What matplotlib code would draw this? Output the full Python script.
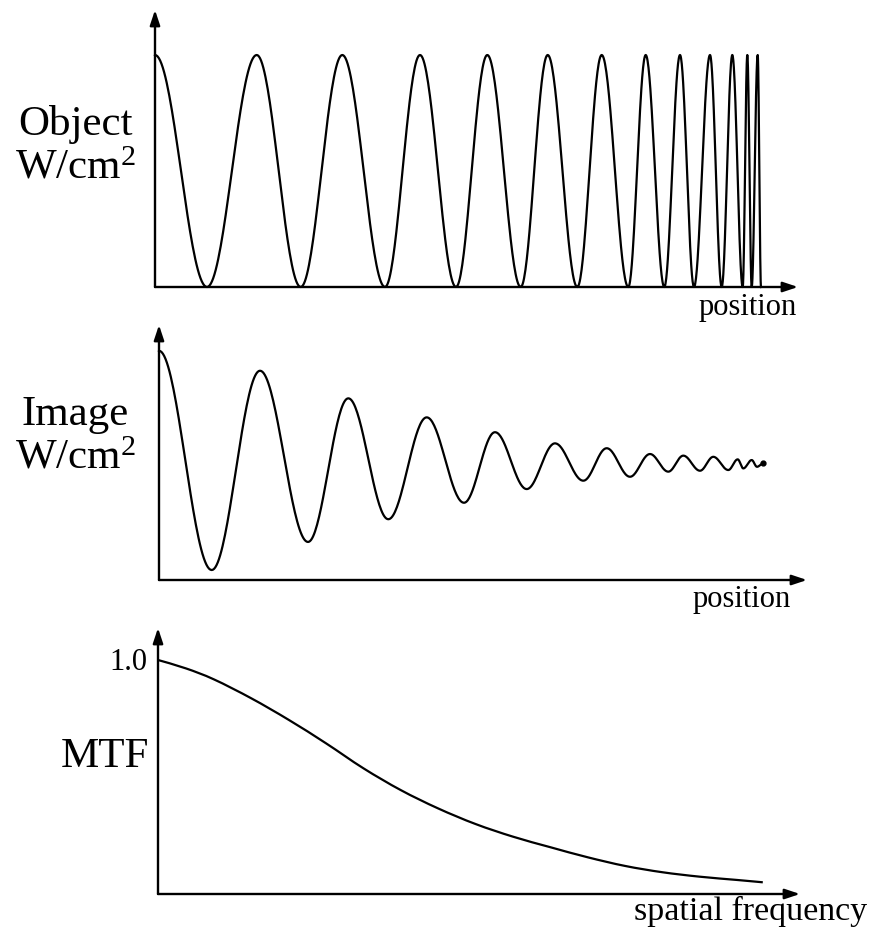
import numpy as np
import matplotlib
matplotlib.use("Agg")
import matplotlib.pyplot as plt
from matplotlib.path import Path
from matplotlib.patches import PathPatch

plt.rcParams['font.family'] = ['Liberation Serif', 'DejaVu Serif']
plt.rcParams['mathtext.fontset'] = 'custom'
plt.rcParams['mathtext.rm'] = 'Liberation Serif'
plt.rcParams['mathtext.it'] = 'Liberation Serif:italic'

# ---- data ----
# Object: positions of successive extrema (peak, min, peak, ...) and their levels
object_x = [0, 52, 101.7, 145.7, 187.3, 230, 265, 301, 332.3, 365.7, 392.7, 422.3,
            446.7, 473.3, 490.7, 509.3, 525, 539, 555, 566.7, 577.3, 587.7, 592.3,
            596.7, 602.7, 606]
object_y = [1, 0, 1, 0, 1, 0, 1, 0, 1, 0, 1, 0, 1, 0, 1, 0, 1, 0, 1, 0, 1, 0, 1, 0, 1, 0]

# Image: positions of successive extrema and their levels
image_x = [0, 52.7, 101, 149, 189.3, 229.3, 267.7, 305, 336, 367.7, 396, 424.3,
           447.7, 471, 491, 509.3, 524.3, 541, 554.3, 569.3, 578.7, 584.3, 592.7,
           598, 604.3]
image_y = [0.988, 0.043, 0.902, 0.164, 0.783, 0.262, 0.701, 0.333, 0.637, 0.392,
           0.589, 0.428, 0.568, 0.445, 0.543, 0.467, 0.536, 0.471, 0.531, 0.474,
           0.52, 0.481, 0.517, 0.488, 0.503]

# MTF vs spatial frequency
mtf_f = [0, 28, 56, 93.4, 130.8, 168, 205.5, 242.8, 280, 317.6, 355, 392.3, 429.6,
         467, 504.4, 541.7, 579, 604.8]
mtf_v = [1.0, 0.964, 0.917, 0.836, 0.744, 0.644, 0.537, 0.444, 0.366, 0.299,
         0.245, 0.200, 0.157, 0.120, 0.093, 0.074, 0.060, 0.050]

W, H = 874, 931
fig = plt.figure(figsize=(W / 100, H / 100), dpi=100)


def add_ax(left, right, bottom, top):
    return fig.add_axes([left / W, 1 - bottom / H, (right - left) / W, (bottom - top) / H])


def extrema_curve(xs, ys, n=40):
    X, Y = [], []
    for i in range(len(xs) - 1):
        t = np.linspace(0, 1, n, endpoint=(i == len(xs) - 2))
        X.append(xs[i] + (xs[i + 1] - xs[i]) * t)
        Y.append(ys[i] + (ys[i + 1] - ys[i]) * (1 - np.cos(np.pi * t)) / 2)
    return np.concatenate(X), np.concatenate(Y)


def smooth_path(xs, ys):
    xs = np.asarray(xs, float)
    ys = np.asarray(ys, float)
    verts = [(xs[0], ys[0])]
    codes = [Path.MOVETO]
    for i in range(len(xs) - 1):
        p0 = np.array([xs[max(i - 1, 0)], ys[max(i - 1, 0)]])
        p1 = np.array([xs[i], ys[i]])
        p2 = np.array([xs[i + 1], ys[i + 1]])
        p3 = np.array([xs[min(i + 2, len(xs) - 1)], ys[min(i + 2, len(xs) - 1)]])
        c1 = p1 + (p2 - p0) / 6
        c2 = p2 - (p3 - p1) / 6
        verts += [tuple(c1), tuple(c2), tuple(p2)]
        codes += [Path.CURVE4] * 3
    return Path(verts, codes)


def style_axes(ax):
    for s in ax.spines.values():
        s.set_visible(False)
    ax.set_xticks([])
    ax.set_yticks([])
    ax.patch.set_alpha(0)
    arrow = dict(arrowstyle='-|>,head_length=0.9,head_width=0.3', color='black',
                 lw=1.7, shrinkA=0, shrinkB=0)
    ax.annotate('', xy=(1, 0), xytext=(0, 0), xycoords='axes fraction',
                textcoords='axes fraction', arrowprops=arrow, annotation_clip=False)
    ax.annotate('', xy=(0, 1), xytext=(0, 0), xycoords='axes fraction',
                textcoords='axes fraction', arrowprops=arrow, annotation_clip=False)


# Panel 1 : Object
ax1 = add_ax(155, 798, 287, 10)
ax1.set_xlim(0, 643)
ax1.set_ylim(0, 277 / 232)
style_axes(ax1)
x, y = extrema_curve(object_x, object_y)
ax1.plot(x, y, color='black', lw=1.6, clip_on=False)

# Panel 2 : Image
ax2 = add_ax(159, 807, 580, 325)
ax2.set_xlim(0, 648)
ax2.set_ylim(0, 255 / 232)
style_axes(ax2)
x, y = extrema_curve(image_x, image_y)
ax2.plot(x, y, color='black', lw=1.6, clip_on=False)
ax2.plot([image_x[-1]], [image_y[-1]], 'o', color='black', ms=3.5)

# Panel 3 : MTF
ax3 = add_ax(158, 800, 894, 628)
ax3.set_xlim(0, 642)
ax3.set_ylim(0, 266 / 234)
style_axes(ax3)
ax3.add_patch(PathPatch(smooth_path(mtf_f, mtf_v), fill=False, lw=1.6,
                        edgecolor='black', clip_on=False))


def ftext(x, y, s, size, ha='center', va='center'):
    fig.text(x / W, 1 - y / H, s, fontsize=size, ha=ha, va=va, color='black')


ftext(75, 124, 'Object', 31)
ftext(75, 168, r'W/cm$^2$', 31)
ftext(75, 415, 'Image', 31)
ftext(75, 458, r'W/cm$^2$', 31)
ftext(105, 757, 'MTF', 31)
ftext(147, 662, '1.0', 22, ha='right')
ftext(748, 307, 'position', 22)
ftext(742, 600, 'position', 22)
ftext(751, 911, 'spatial frequency', 24.5)

fig.savefig('out.png', dpi=100)
